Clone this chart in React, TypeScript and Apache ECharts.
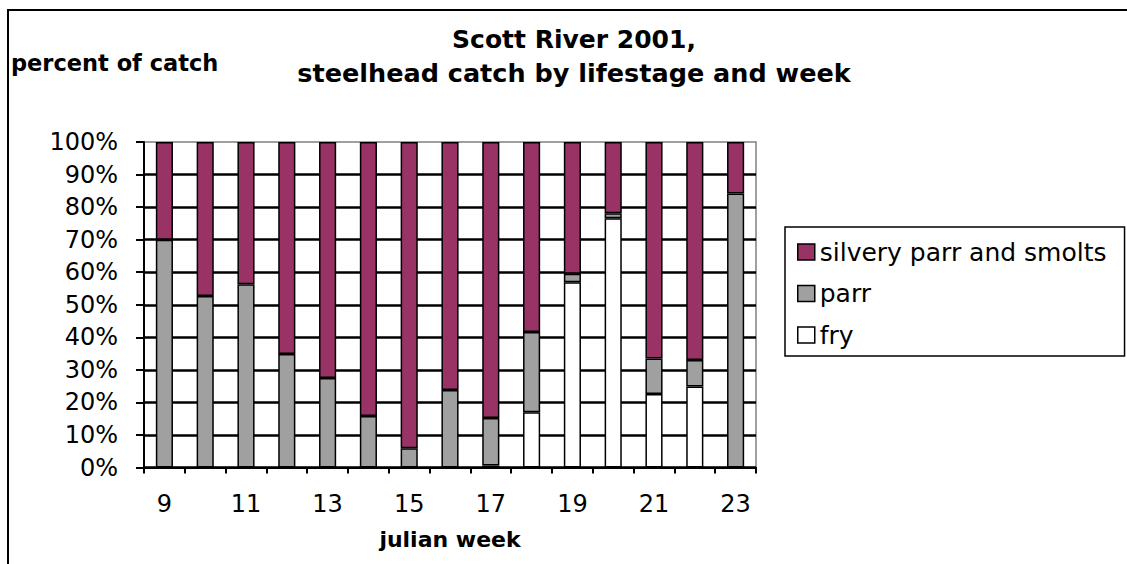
import React, { useEffect, useRef } from "react";
import * as echarts from "echarts";

const weeks = ["9", "10", "11", "12", "13", "14", "15", "16", "17", "18", "19", "20", "21", "22", "23"];
const fry = [0, 0, 0, 0, 0, 0, 0, 0, 0.6, 17.0, 56.9, 76.6, 22.6, 24.9, 0];
const parr = [70.0, 52.7, 56.3, 34.9, 27.5, 15.8, 5.9, 23.8, 14.6, 24.6, 2.6, 1.5, 10.9, 8.1, 84.2];
const silvery = [30.0, 47.3, 43.7, 65.1, 72.5, 84.2, 94.1, 76.2, 84.8, 58.4, 40.5, 21.9, 66.5, 67.0, 15.8];

const seriesNames = ["fry", "parr", "silvery parr and smolts"];
const seriesColors = ["#ffffff", "#a0a0a0", "#993366"];
const legendOrder = ["silvery parr and smolts", "parr", "fry"];

const titleLine1 = "Scott River 2001,";
const titleLine2 = "steelhead catch by lifestage and week";
const yName = "percent of catch";
const xName = "julian week";

const FONT = "DejaVu Sans";

export default function App() {
  const ref = useRef<HTMLDivElement>(null);
  useEffect(() => {
    if (!ref.current) return;
    const chart = echarts.init(ref.current, null, { renderer: "svg" });
    const values = [fry, parr, silvery];
    chart.setOption({
      animation: false,
      backgroundColor: "#ffffff",
      textStyle: { fontFamily: FONT, color: "#000" },
      grid: {
        left: 144,
        right: 371,
        top: 142,
        bottom: 96.5,
        show: true,
        borderColor: "#808080",
        borderWidth: 1.5,
        backgroundColor: "transparent",
        containLabel: false,
        outerBoundsMode: "none",
      },
      legend: {
        orient: "vertical",
        left: 785,
        top: 227,
        padding: [11, 18, 7, 12],
        itemGap: 13.5,
        itemWidth: 17,
        itemHeight: 16,
        icon: "rect",
        borderColor: "#000",
        borderWidth: 1.5,
        data: legendOrder,
        itemStyle: { borderColor: "#000", borderWidth: 1.5 },
        textStyle: { fontFamily: FONT, fontSize: 25, lineHeight: 28, color: "#000" },
      },
      xAxis: {
        type: "category",
        data: weeks,
        axisLine: { show: true, lineStyle: { color: "#000", width: 2 } },
        axisTick: { show: true, interval: 0, length: 6, lineStyle: { color: "#000", width: 2 } },
        axisLabel: { interval: 1, fontFamily: FONT, fontSize: 24, color: "#000", margin: 24 },
        splitLine: { show: false },
      },
      yAxis: {
        type: "value",
        min: 0,
        max: 100,
        interval: 10,
        axisLine: { show: true, lineStyle: { color: "#000", width: 2 } },
        axisTick: { show: true, length: 8, lineStyle: { color: "#000", width: 2 } },
        axisLabel: { formatter: "{value}%", fontFamily: FONT, fontSize: 24, color: "#000", margin: 26 },
        splitLine: {
          show: true,
          showMaxLine: false,
          lineStyle: { color: "#000000", width: 2.5, opacity: 1, type: "solid" },
        },
      },
      series: seriesNames.map((name, i) => ({
        name,
        type: "bar",
        stack: "total",
        barWidth: "42%",
        data: values[i],
        itemStyle: { color: seriesColors[i], borderColor: "#000", borderWidth: 1.5 },
      })),
      graphic: [
        {
          type: "rect",
          shape: { x: 8, y: 10, width: 1300, height: 700 },
          style: { fill: "none", stroke: "#000", lineWidth: 2 },
          silent: true,
        },
        {
          type: "text",
          x: 574,
          y: 39,
          style: { text: titleLine1, align: "center", verticalAlign: "middle", fontFamily: FONT, fontWeight: "bold", fontSize: 25, fill: "#000" },
        },
        {
          type: "text",
          x: 574,
          y: 73,
          style: { text: titleLine2, align: "center", verticalAlign: "middle", fontFamily: FONT, fontWeight: "bold", fontSize: 25.5, fill: "#000" },
        },
        {
          type: "text",
          x: 11,
          y: 63,
          style: { text: yName, align: "left", verticalAlign: "middle", fontFamily: FONT, fontWeight: "bold", fontSize: 22.5, fill: "#000" },
        },
        {
          type: "text",
          x: 450,
          y: 539,
          style: { text: xName, align: "center", verticalAlign: "middle", fontFamily: FONT, fontWeight: "bold", fontSize: 22, fill: "#000" },
        },
      ],
    });
    return () => chart.dispose();
  }, []);
  return (
    <div
      ref={ref}
      style={{ position: "absolute", left: 0, top: 0, width: 1127, height: 564 }}
    />
  );
}
